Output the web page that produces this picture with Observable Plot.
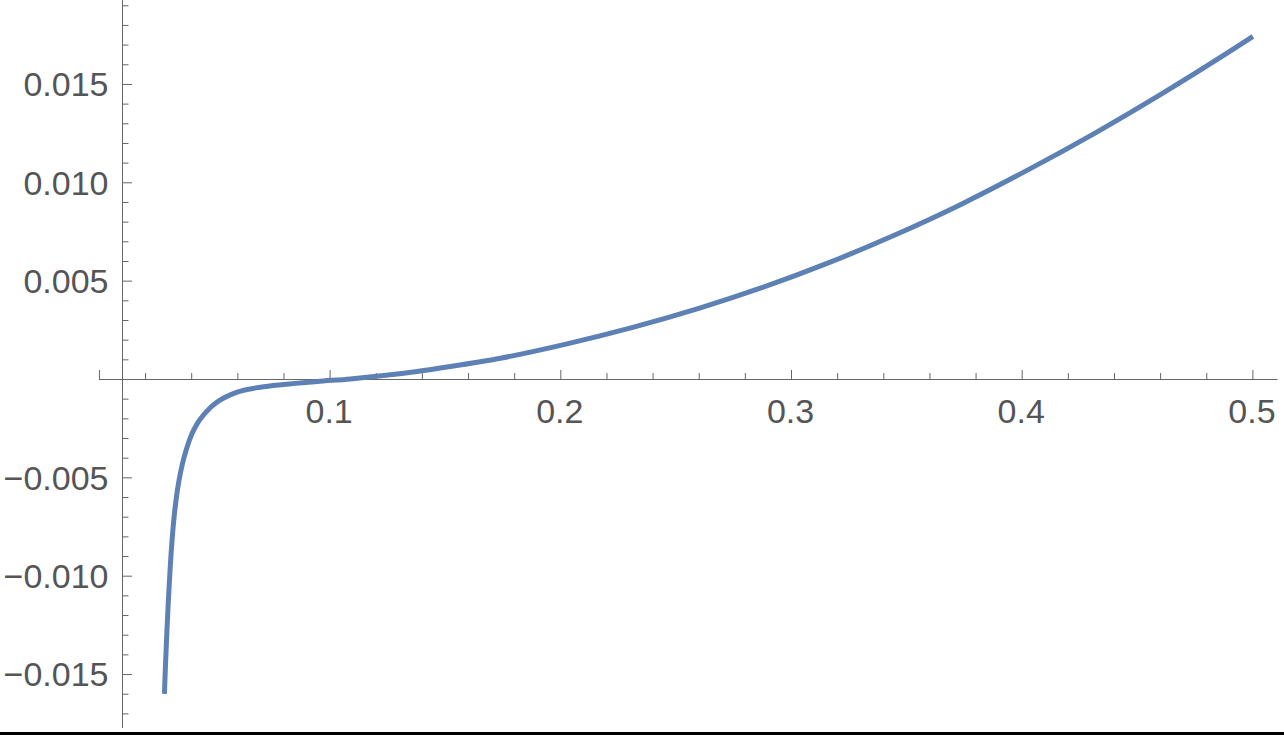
<!DOCTYPE html>
<html><head><meta charset="utf-8">
<script src="https://cdn.jsdelivr.net/npm/d3@7"></script>
<script src="https://cdn.jsdelivr.net/npm/@observablehq/plot@0.6"></script>
<style>
html,body{margin:0;padding:0;background:#fff;}
#chart{position:relative;width:1284px;height:735px;overflow:hidden;}
#edge{position:absolute;left:0;top:732px;width:1284px;height:3px;background:#000;}
</style></head><body>
<div id="chart"><div id="edge"></div></div>
<script>
// curve values
const curveX = [0.02818,0.02865,0.02926,0.02995,0.03078,0.03182,0.03251,0.03338,0.03450,0.03598,0.03797,0.04010,0.04235,0.04638,0.05102,0.05969,0.06979,0.07989,0.09437,0.1088,0.1232,0.1377,0.1521,0.1738,0.2027,0.2316,0.2605,0.2865,0.3154,0.3443,0.3732,0.4021,0.4310,0.4599,0.4888,0.5000];
const curveY = [-0.01598,-0.01446,-0.01276,-0.01107,-0.00937,-0.00768,-0.00683,-0.00598,-0.00513,-0.00428,-0.00344,-0.00276,-0.00225,-0.00163,-0.00115,-0.00064,-0.00039,-0.00025,-0.00010,0.00003,0.00020,0.00041,0.00066,0.00108,0.00181,0.00266,0.00364,0.00464,0.00590,0.00732,0.00889,0.01063,0.01249,0.01448,0.01659,0.01744];

// ticks
const xMajorTicks = [0, 0.1, 0.2, 0.3, 0.4, 0.5];
const xLabelValues = [0.1, 0.2, 0.3, 0.4, 0.5];
const xLabels = ["0.1", "0.2", "0.3", "0.4", "0.5"];
const xMinorTicks = [0.02,0.04,0.06,0.08,0.12,0.14,0.16,0.18,0.22,0.24,0.26,0.28,0.32,0.34,0.36,0.38,0.42,0.44,0.46,0.48];
const yLabelValues = [0.015, 0.010, 0.005, -0.005, -0.010, -0.015];
const yLabels = ["0.015", "0.010", "0.005", "\u22120.005", "\u22120.010", "\u22120.015"];
const yMinorTicks = [-0.017,-0.016,-0.014,-0.013,-0.012,-0.011,-0.009,-0.008,-0.007,-0.006,-0.004,-0.003,-0.002,-0.001,0.001,0.002,0.003,0.004,0.006,0.007,0.008,0.009,0.011,0.012,0.013,0.014,0.016,0.017,0.018,0.019];

// axes extents
const yAxisAt = 0.01;
const xAxisExtent = [0, 0.5109];
const yAxisExtent = [-0.01774, 0.01927];

const data = curveX.map((x, i) => ({x, y: curveY[i]}));
const axisColor = "#666666";
const labelColor = "#555555";
const font = "'Liberation Sans', Arial, sans-serif";
const W = 1284, H = 735, ML = 122, MB = 356;

const chart = Plot.plot({
  width: W, height: H,
  marginLeft: ML, marginRight: 0, marginTop: 0, marginBottom: MB,
  x: {domain: [0.01, 0.5137], axis: null},
  y: {domain: [0, 0.019268], axis: null},
  style: {background: "transparent", fontFamily: font},
  marks: [
    Plot.ruleY([0], {x1: xAxisExtent[0], x2: xAxisExtent[1], stroke: axisColor, strokeWidth: 1}),
    Plot.ruleX([yAxisAt], {y1: yAxisExtent[0], y2: yAxisExtent[1], stroke: axisColor, strokeWidth: 1}),
    Plot.tickX(xMajorTicks, {x: d => d, insetTop: H - MB - 9, stroke: axisColor}),
    Plot.tickX(xMinorTicks, {x: d => d, insetTop: H - MB - 6, stroke: axisColor}),
    Plot.tickY(yLabelValues, {y: d => d, insetRight: W - ML - 10, stroke: axisColor}),
    Plot.tickY(yMinorTicks, {y: d => d, insetRight: W - ML - 6.5, stroke: axisColor}),
    Plot.line(data, {x: "x", y: "y", stroke: "#5E81B5", strokeWidth: 5, curve: "monotone-x", strokeLinecap: "butt", strokeLinejoin: "round"}),
    Plot.text(xLabelValues, {x: d => d, text: (d, i) => xLabels[i], frameAnchor: "bottom", lineAnchor: "top", dy: 19, dx: -1, fontSize: 34, fill: labelColor, fontFamily: font}),
    Plot.text(yLabelValues, {y: d => d, text: (d, i) => yLabels[i], frameAnchor: "left", textAnchor: "end", lineAnchor: "middle", dx: -14, dy: 1, fontSize: 34, fill: labelColor, fontFamily: font})
  ]
});
chart.style.position = "absolute";
chart.style.left = "0";
chart.style.top = "0";
document.getElementById("chart").appendChild(chart);
</script>
</body></html>
